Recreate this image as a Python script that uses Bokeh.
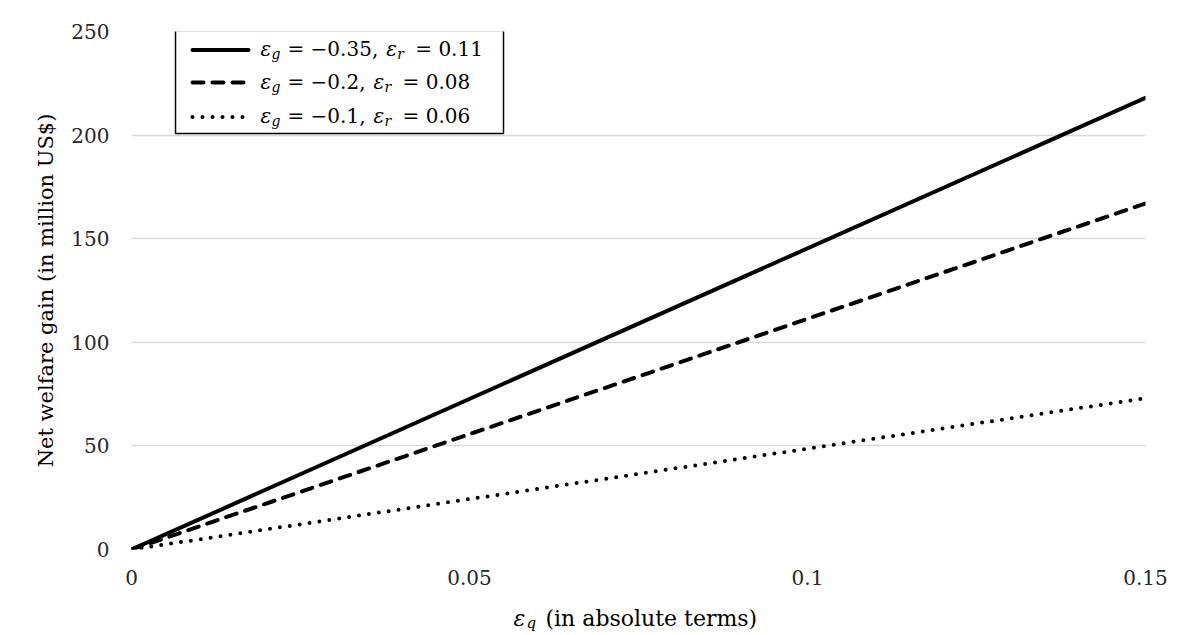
from bokeh.plotting import figure
from bokeh.layouts import column
from bokeh.models import Range1d, FixedTicker, Label, BoxAnnotation, Arrow, NumeralTickFormatter
from bokeh.embed import file_html
from bokeh.resources import INLINE

# ---- data ----
x_eps_q = [0.0, 0.15]
welfare_solid = [0.0, 218.0]     # eps_g = -0.35, eps_r = 0.11
welfare_dashed = [0.0, 167.0]    # eps_g = -0.2,  eps_r = 0.08
welfare_dotted = [0.0, 73.0]     # eps_g = -0.1,  eps_r = 0.06
eps_g_values = ["−0.35", "−0.2", "−0.1"]
eps_r_values = ["0.11", "0.08", "0.06"]
x_ticks = [0, 0.05, 0.1, 0.15]
y_ticks = [0, 50, 100, 150, 200, 250]
y_title = "Net welfare gain (in million US$)"
x_title_rest = "(in absolute terms)"

FONT = "DejaVu Serif"
DOT = "0 10"
DASH = "11 9"

p = figure(width=1200, height=596,
           x_range=Range1d(0, 0.15), y_range=Range1d(0, 250),
           output_backend="svg", toolbar_location=None,
           min_border_left=131, min_border_right=55,
           min_border_top=31, min_border_bottom=47)
p.outline_line_color = None
p.background_fill_color = "white"
p.border_fill_color = "white"

p.xgrid.grid_line_color = None
p.ygrid.grid_line_color = "#d9d9d9"
p.ygrid.grid_line_width = 1.5
p.ygrid.ticker = FixedTicker(ticks=y_ticks)

for ax in (p.xaxis[0], p.yaxis[0]):
    ax.axis_line_color = None
    ax.major_tick_line_color = None
    ax.minor_tick_line_color = None
    ax.major_tick_out = 0
    ax.major_tick_in = 0
    ax.minor_tick_out = 0
    ax.major_label_text_font = FONT
    ax.major_label_text_font_size = "20px"
    ax.major_label_text_color = "#262626"

p.xaxis.ticker = FixedTicker(ticks=x_ticks)
p.xaxis.formatter = NumeralTickFormatter(format="0.[00]")
p.xaxis.major_label_standoff = 20
p.xaxis.axis_label = None

p.yaxis.ticker = FixedTicker(ticks=y_ticks)
p.yaxis.major_label_standoff = 22
p.yaxis.axis_label = y_title
p.yaxis.axis_label_text_font = FONT
p.yaxis.axis_label_text_font_style = "normal"
p.yaxis.axis_label_text_font_size = "21px"
p.yaxis.axis_label_text_color = "#000000"
p.yaxis.axis_label_standoff = 10

# ---- series ----
p.line(x_eps_q, welfare_solid, line_color="black", line_width=4, line_cap="round")
p.line(x_eps_q, welfare_dashed, line_color="black", line_width=4, line_cap="round", line_dash=DASH)
p.line(x_eps_q, welfare_dotted, line_color="black", line_width=4, line_cap="round", line_dash=DOT)


def lab(fig, x, y, text, size, style="normal"):
    fig.add_layout(Label(x=x, y=y, x_units="screen", y_units="screen", text=text,
                         text_font=FONT, text_font_size=size, text_font_style=style,
                         text_color="black", text_baseline="alphabetic", text_align="left"))


# ---- legend (manual, to allow subscripts) ----
p.add_layout(BoxAnnotation(left=44, right=372, bottom=416, top=519,
                           left_units="screen", right_units="screen",
                           bottom_units="screen", top_units="screen",
                           fill_color="white", fill_alpha=1.0,
                           line_color="black", line_width=1.5, line_alpha=1.0))

dashes = ["solid", DASH, DOT]
line_y = [499.5, 467, 432.5]
base_y = [500.5, 468, 433.5]


def tw(s, size):
    w = {' ': 0.318, '.': 0.318, ',': 0.318, '=': 0.838, '−': 0.838}
    return sum(w.get(c, 0.636) for c in s) * size


for i in range(3):
    p.add_layout(Arrow(x_start=61, y_start=line_y[i], x_end=117, y_end=line_y[i],
                       start_units="screen", end_units="screen", end=None,
                       line_color="black", line_width=4, line_cap="round",
                       line_dash=dashes[i]))
    x0 = 129
    lab(p, x0, base_y[i], "ε", "20px", "italic")
    lab(p, x0 + 11, base_y[i] - 5, "g", "14px", "italic")
    part1 = "= " + eps_g_values[i] + ","
    lab(p, x0 + 27, base_y[i], part1, "20px")
    x1 = x0 + 27 + tw(part1, 20) + 8
    lab(p, x1, base_y[i], "ε", "20px", "italic")
    lab(p, x1 + 11, base_y[i] - 5, "r", "14px", "italic")
    lab(p, x1 + 29, base_y[i], "= " + eps_r_values[i], "20px")

# ---- x axis title strip (separate figure so the subscript text is not clipped) ----
t = figure(width=1200, height=39, x_range=Range1d(0, 1), y_range=Range1d(0, 1),
           x_axis_type=None, y_axis_type=None,
           output_backend="svg", toolbar_location=None,
           min_border_left=131, min_border_right=55,
           min_border_top=0, min_border_bottom=0)
t.outline_line_color = None
t.grid.visible = False
t.background_fill_color = "white"
t.border_fill_color = "white"

lab(t, 382, 17, "ε", "22px", "italic")
lab(t, 395, 13, "q", "15px", "italic")
lab(t, 414, 17, x_title_rest, "22px")

layout = column(p, t, spacing=0)
open("out.html", "w").write(file_html(layout, INLINE))
